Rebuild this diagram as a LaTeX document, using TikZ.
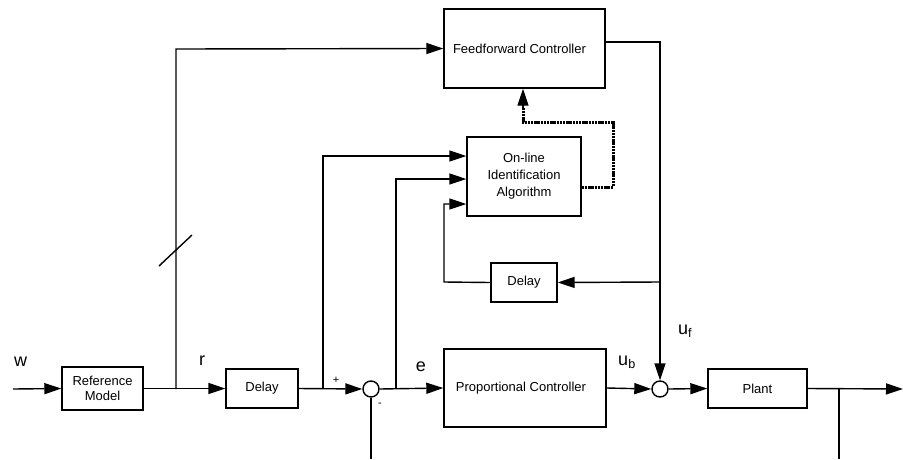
\documentclass[tikz,border=0pt]{standalone}
\usepackage{fontspec}
\setmainfont{Liberation Sans}
\usetikzlibrary{arrows.meta}
\begin{document}
\begin{tikzpicture}[x=1pt,y=-1pt,
  line width=1.4pt,
  blk/.style={draw,rectangle,inner sep=0pt,align=center,font=\fontsize{13}{15.5}\selectfont},
  sumc/.style={draw,circle,minimum size=16pt,inner sep=0pt},
  arr/.style={-{Triangle[length=17pt,width=11pt]}},
  sig/.style={font=\fontsize{18}{20}\selectfont},
  sgn/.style={font=\fontsize{11}{12}\selectfont},
  dots/.style={line width=3pt,dash pattern=on 2.4pt off 0.8pt}]
\useasboundingbox (0,0) rectangle (903,459);
% blocks
\node[blk,minimum width=81pt,minimum height=43pt] (refm) at (102.5,388.5) {Reference\\Model};
\node[blk,minimum width=72pt,minimum height=39pt] (dl1) at (262,388.5) {Delay};
\node[sumc] (s1) at (371,389) {};
\node[blk,minimum width=162pt,minimum height=78pt] (pc) at (525,388) {Proportional Controller\hspace{8pt}};
\node[sumc] (s2) at (660,389) {};
\node[blk,minimum width=99pt,minimum height=39pt] (plant) at (757.5,388.5) {Plant};
\node[blk,minimum width=161pt,minimum height=79pt] (ff) at (524.5,48.5) {Feedforward Controller\hspace{10pt}};
\node[blk,minimum width=114pt,minimum height=79pt,font=\fontsize{13}{17}\selectfont] (oia) at (524,176.5) {On-line\\Identification\\Algorithm};
\node[blk,minimum width=66pt,minimum height=39pt] (dl2) at (524,282.5) {Delay};
% coordinates
\coordinate (win) at (13,389);
\coordinate (j1) at (176,389);
\coordinate (j2) at (323,389);
\coordinate (j3) at (396,389);
\coordinate (j4) at (839,389);
\coordinate (yout) at (903,389);
\coordinate (s1b) at (371,459);
\coordinate (j4b) at (839,459);
\coordinate (jd) at (660,282);
% main path
\draw[arr] (win) -- (refm.west);
\draw[arr] (refm.east) -- (dl1.west);
\draw[arr] (dl1.east) -- (s1.west);
\draw[arr] (s1.east) -- (pc.west);
\draw[arr] (pc.east) -- (s2.west);
\draw[arr] (s2.east) -- (plant.west);
\draw[arr] (plant.east) -- (yout);
\draw (s1.south) -- (s1b);
\draw (j4) -- (j4b);
% branches
\draw[arr] (j1) -- (176,49) -- (ff.west);
\draw (159,266) -- (192,235);
\draw[arr] (j2) -- (323,156) -- (oia.west |- 0,156);
\draw[arr] (j3) -- (396,179) -- (oia.west |- 0,179);
\draw[arr] (ff.east |- 0,42) -- (660,42) -- (s2.north);
\draw[arr] (jd) -- (dl2.east);
\draw[arr] (dl2.west) -- (444,282) -- (444,204) -- (oia.west |- 0,204);
\draw[dots] (oia.east |- 0,187) -- (613,187) -- (613,122) -- (523,122) -- (523,108);
\draw[arr] (523,109) -- (ff.south -| 523,0);
% labels
\node[sig] (lw) at (20.5,362) {w};
\node[sig] (lr) at (202,361) {r};
\node[sig] (le) at (421,367) {e};
\node[sig] (lub) at (627,362) {u\textsubscript{b}};
\node[sig] (luf) at (685,331) {u\textsubscript{f}};
\node[sgn] (lp) at (336,380) {+};
\node[sgn] (lm) at (380,405) {-};
\end{tikzpicture}
\end{document}
